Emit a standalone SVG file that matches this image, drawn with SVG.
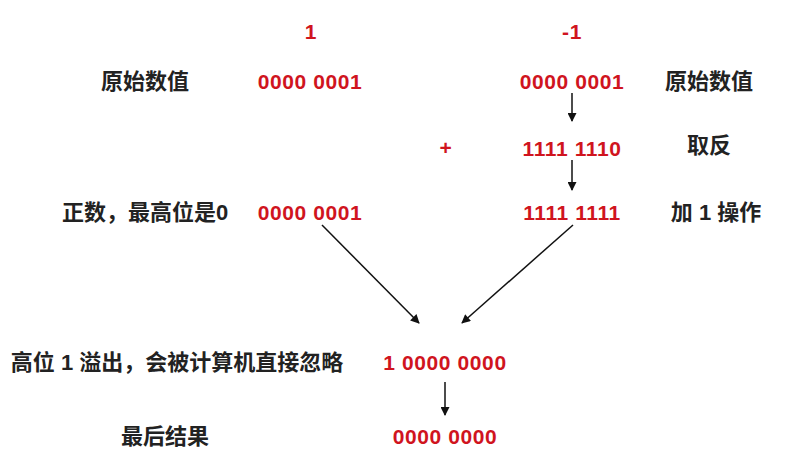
<svg xmlns="http://www.w3.org/2000/svg" width="800" height="464" viewBox="0 0 800 464">
<style>
.num{font-family:"Liberation Sans","Noto Sans CJK SC",sans-serif;font-weight:bold;font-size:21px;fill:#d0141e;text-anchor:middle;letter-spacing:0.6px}
.lbl{font-family:"Liberation Sans","Noto Sans CJK SC",sans-serif;font-weight:bold;font-size:22px;fill:#222;text-anchor:middle}
.lnk{stroke:#111;stroke-width:1.5;fill:none;marker-end:url(#ah)}
</style>
<defs>
<marker id="ah" viewBox="0 0 10 10" refX="9" refY="5" markerWidth="10" markerHeight="9" markerUnits="userSpaceOnUse" orient="auto">
<path d="M0,0 L10,5 L0,10 z" fill="#111"/>
</marker>
</defs>
<rect width="800" height="464" fill="#fff"/>
<g id="h1"><text class="num" x="311" y="39">1</text></g>
<g id="hm1"><text class="num" x="572" y="39">-1</text></g>
<g id="l-orig-left"><text class="lbl" x="145" y="89">原始数值</text></g>
<g id="a-orig"><text class="num" x="310" y="89">0000 0001</text></g>
<g id="b-orig"><text class="num" x="572" y="89">0000 0001</text></g>
<g id="l-orig-right"><text class="lbl" x="709" y="89">原始数值</text></g>
<g id="plus"><text class="num" x="446" y="155">+</text></g>
<g id="b-inv"><text class="num" x="572" y="156">1111 1110</text></g>
<g id="l-inv"><text class="lbl" x="709" y="153">取反</text></g>
<g id="l-pos"><text class="lbl" x="145" y="220">正数，最高位是0</text></g>
<g id="a-pos"><text class="num" x="310" y="220">0000 0001</text></g>
<g id="b-comp"><text class="num" x="572" y="220">1111 1111</text></g>
<g id="l-add"><text class="lbl" x="716" y="220">加 1 操作</text></g>
<g id="l-over"><text class="lbl" x="177" y="370">高位 1 溢出，会被计算机直接忽略</text></g>
<g id="sum"><text class="num" x="445" y="370">1 0000 0000</text></g>
<g id="l-final"><text class="lbl" x="165" y="444">最后结果</text></g>
<g id="result"><text class="num" x="445" y="444">0000 0000</text></g>
<g id="connectors">
<line class="lnk" x1="572" y1="93" x2="572" y2="121"/>
<line class="lnk" x1="572" y1="160" x2="572" y2="190"/>
<line class="lnk" x1="322" y1="225" x2="419" y2="323"/>
<line class="lnk" x1="573" y1="225" x2="462" y2="323"/>
<line class="lnk" x1="445" y1="382" x2="445" y2="415"/>
</g>
</svg>
